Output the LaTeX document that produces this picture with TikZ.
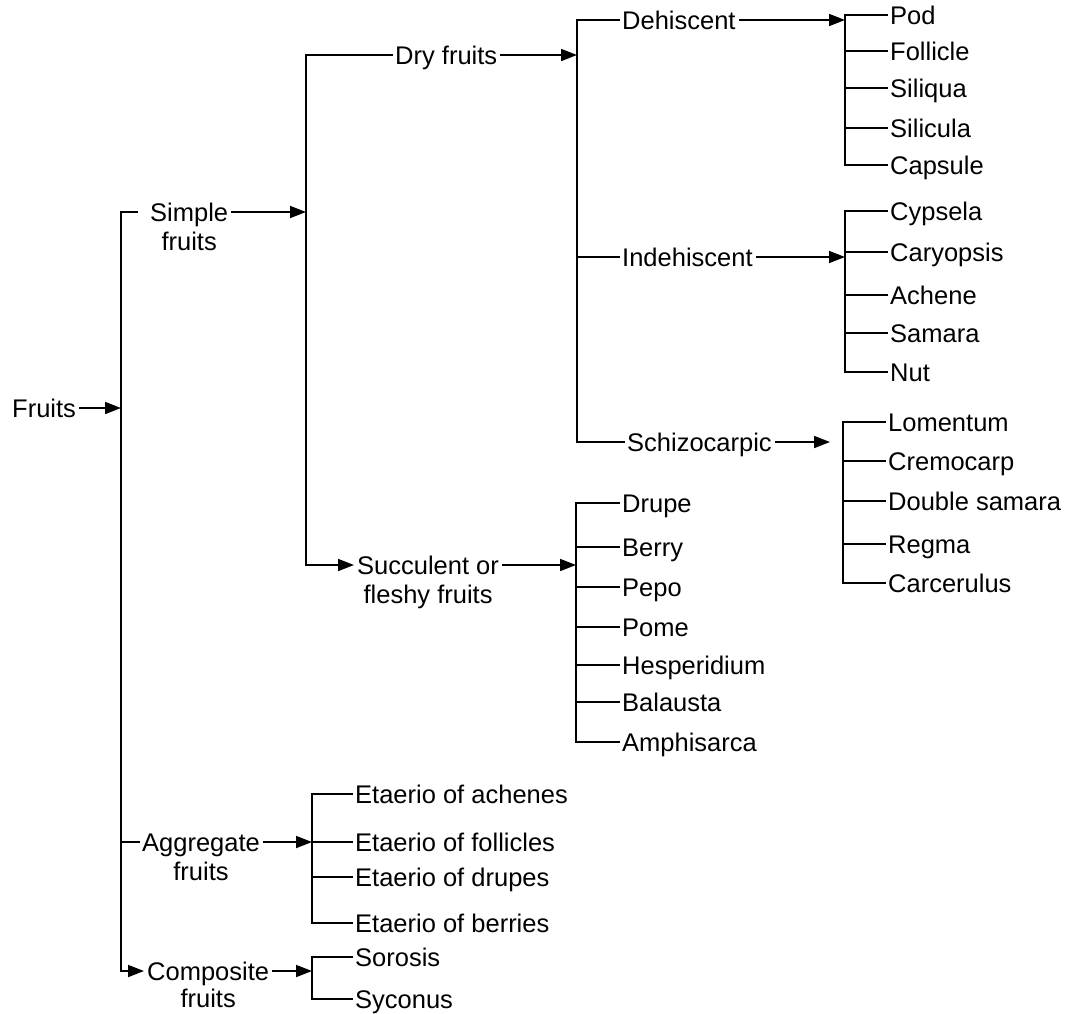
\documentclass[tikz,border=0pt]{standalone}
\usepackage{fontspec}
\setmainfont{Liberation Sans}
\usetikzlibrary{arrows.meta}
\begin{document}
\begin{tikzpicture}[x=1pt,y=-1pt,
  txt/.style={font=\fontsize{25.5}{30}\selectfont, inner xsep=3pt, inner ysep=0pt,
    text height=18pt, text depth=0pt, anchor=west},
  sub/.style={label={[txt,anchor=north,label distance=11pt]below:#1}},
  ln/.style={line width=1.7pt, line cap=rect},
  arr/.style={line width=1.7pt,-{Triangle[length=16pt,width=12pt]}}
]
\useasboundingbox (0,0) rectangle (1082,1013);
% bracket x positions
\coordinate (mx) at (121,0);
\coordinate (sx) at (306,0);
\coordinate (dx) at (577,0);
\coordinate (kx) at (845,0);
\coordinate (lx) at (843,0);
\coordinate (ux) at (576,0);
\coordinate (ax) at (312,0);

% level 0/1
\node[txt] (fruits) at (9,408) {Fruits};
\node[txt,sub=fruits] (simple) at (147,212) {Simple};
\node[txt,sub=fruits] (agg) at (139,842) {Aggregate};
\node[txt,label={[txt,anchor=north,label distance=9pt]below:fruits}] (comp) at (144,971) {Composite};

% level 2
\node[txt] (dry) at (392,55) {Dry fruits};
\node[txt,sub=fleshy fruits] (succ) at (354,565) {Succulent or};

% level 3
\node[txt] (dehis) at (619,20) {Dehiscent};
\node[txt] (indeh) at (619,257) {Indehiscent};
\node[txt] (schizo) at (624,442) {Schizocarpic};

% dehiscent children
\node[txt] (pod) at (887,15) {Pod};
\node[txt] (follicle) at (887,51) {Follicle};
\node[txt] (siliqua) at (887,88) {Siliqua};
\node[txt] (silicula) at (887,128) {Silicula};
\node[txt] (capsule) at (887,165) {Capsule};

% indehiscent children
\node[txt] (cypsela) at (887,211) {Cypsela};
\node[txt] (caryopsis) at (887,252) {Caryopsis};
\node[txt] (achene) at (887,295) {Achene};
\node[txt] (samara) at (887,333) {Samara};
\node[txt] (nut) at (887,372) {Nut};

% schizocarpic children
\node[txt] (lomentum) at (885,422) {Lomentum};
\node[txt] (cremocarp) at (885,461) {Cremocarp};
\node[txt] (dsamara) at (885,501) {Double samara};
\node[txt] (regma) at (885,544) {Regma};
\node[txt] (carcerulus) at (885,583) {Carcerulus};

% succulent children
\node[txt] (drupe) at (619,503) {Drupe};
\node[txt] (berry) at (619,547) {Berry};
\node[txt] (pepo) at (619,587) {Pepo};
\node[txt] (pome) at (619,627) {Pome};
\node[txt] (hesp) at (619,665) {Hesperidium};
\node[txt] (balausta) at (619,702) {Balausta};
\node[txt] (amphi) at (619,742) {Amphisarca};

% aggregate children
\node[txt] (eache) at (352,794) {Etaerio of achenes};
\node[txt] (efoll) at (352,842) {Etaerio of follicles};
\node[txt] (edrup) at (352,877) {Etaerio of drupes};
\node[txt] (eberr) at (352,923) {Etaerio of berries};

% composite children
\node[txt] (sorosis) at (352,957) {Sorosis};
\node[txt] (syconus) at (352,999) {Syconus};

% ---- connectors ----
% main bracket
\draw[arr] (fruits.east) -- (fruits.east -| mx);
\draw[ln] ([xshift=-10pt]simple.west) -- (simple.west -| mx) -- (comp.west -| mx);
\draw[arr] (comp.west -| mx) -- (comp.west);
\draw[ln] (agg.west -| mx) -- (agg.west);

% simple fruits
\draw[arr] (simple.east) -- (simple.east -| sx);
\draw[ln] (dry.west) -- (dry.west -| sx) -- (succ.west -| sx);
\draw[arr] (succ.west -| sx) -- (succ.west);

% dry fruits
\draw[arr] (dry.east) -- (dry.east -| dx);
\draw[ln] (dehis.west) -- (dehis.west -| dx) -- (schizo.west -| dx) -- (schizo.west);
\draw[ln] (indeh.west -| dx) -- (indeh.west);

% dehiscent
\draw[arr] (dehis.east) -- (dehis.east -| kx);
\draw[ln] (pod.west) -- (pod.west -| kx) -- (capsule.west -| kx) -- (capsule.west);
\foreach \n in {follicle,siliqua,silicula}
  \draw[ln] (\n.west -| kx) -- (\n.west);

% indehiscent
\draw[arr] (indeh.east) -- (indeh.east -| kx);
\draw[ln] (cypsela.west) -- (cypsela.west -| kx) -- (nut.west -| kx) -- (nut.west);
\foreach \n in {caryopsis,achene,samara}
  \draw[ln] (\n.west -| kx) -- (\n.west);

% schizocarpic
\draw[arr] (schizo.east) -- ([xshift=-13pt]schizo.east -| lx);
\draw[ln] (lomentum.west) -- (lomentum.west -| lx) -- (carcerulus.west -| lx) -- (carcerulus.west);
\foreach \n in {cremocarp,dsamara,regma}
  \draw[ln] (\n.west -| lx) -- (\n.west);

% succulent
\draw[arr] (succ.east) -- (succ.east -| ux);
\draw[ln] (drupe.west) -- (drupe.west -| ux) -- (amphi.west -| ux) -- (amphi.west);
\foreach \n in {berry,pepo,pome,hesp,balausta}
  \draw[ln] (\n.west -| ux) -- (\n.west);

% aggregate
\draw[arr] (agg.east) -- (agg.east -| ax);
\draw[ln] (eache.west) -- (eache.west -| ax) -- (eberr.west -| ax) -- (eberr.west);
\foreach \n in {efoll,edrup}
  \draw[ln] (\n.west -| ax) -- (\n.west);

% composite
\draw[arr] (comp.east) -- (comp.east -| ax);
\draw[ln] (sorosis.west) -- (sorosis.west -| ax) -- (syconus.west -| ax) -- (syconus.west);
\end{tikzpicture}
\end{document}
